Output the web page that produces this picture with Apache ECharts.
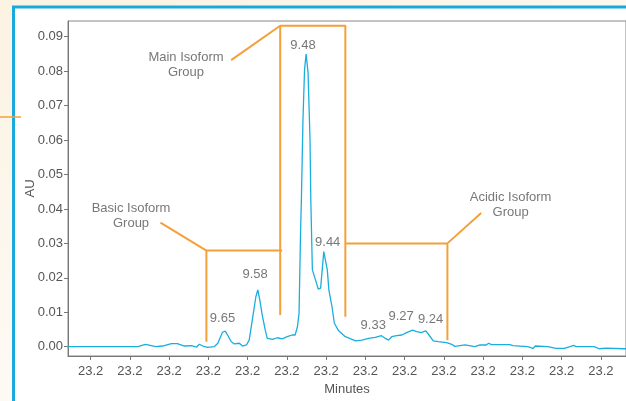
<!DOCTYPE html>
<html>
<head>
<meta charset="utf-8">
<script src="https://cdn.jsdelivr.net/npm/echarts@6/dist/echarts.min.js"></script>
<style>
html, body { margin: 0; padding: 0; background: #fdf8ee; }
#chart { width: 626px; height: 401px; }
</style>
</head>
<body>
<div id="chart"></div>
<script>
//--------------------Data--------------------
// trace: x in tick units (tick 0 = first "23.2"), y in AU
let trace_x = [-0.64, 1.20, 1.40, 1.66, 1.83, 2.06, 2.21, 2.39, 2.57, 2.70, 2.77, 2.86, 2.98, 3.15, 3.24,
    3.36, 3.43, 3.49, 3.58, 3.66, 3.79, 3.87, 3.97, 4.04, 4.12, 4.21, 4.26, 4.31, 4.38, 4.45, 4.50, 4.63,
    4.76, 4.88, 5.01, 5.13, 5.21, 5.27, 5.31, 5.35, 5.37, 5.41, 5.45, 5.49, 5.52, 5.54, 5.59, 5.61, 5.65,
    5.73, 5.80, 5.86, 5.90, 5.94, 5.99, 6.03, 6.07, 6.15, 6.21, 6.32, 6.49, 6.75, 6.91, 7.08, 7.25, 7.41,
    7.51, 7.59, 7.67, 7.80, 7.93, 8.05, 8.20, 8.31, 8.42, 8.54, 8.62, 8.73, 8.86, 9.07, 9.20, 9.28, 9.54,
    9.79, 9.92, 10.08, 10.14, 10.21, 10.68, 10.76, 11.14, 11.27, 11.33, 11.65, 11.86, 12.07, 12.31, 12.37,
    12.83, 12.96, 13.13, 13.58, 13.64];
let trace_y = [0, 0, 0.0007, 0, 0.0002, 0.0009, 0.0009, 0.0002, 0.0003, -0.0001, 0.0007, 0.0002, -0.0002, 0, 0.0010,
    0.0042, 0.0045, 0.0034, 0.0015, 0.0008, 0.0010, 0.0002, 0.0005, 0.0019, 0.0078, 0.0145, 0.0165, 0.0136,
    0.0087, 0.0048, 0.0024, 0.0021, 0.0026, 0.0023, 0.0029, 0.0034, 0.0034, 0.0058, 0.0097, 0.0339, 0.0426,
    0.0658, 0.0803, 0.0850, 0.0818, 0.0795, 0.0600, 0.0426, 0.0223, 0.0194, 0.0167, 0.0170, 0.0223, 0.0276,
    0.0273, 0.0223, 0.0165, 0.0116, 0.0068, 0.0046, 0.0029, 0.0017, 0.0019, 0.0024, 0.0027, 0.0032, 0.0024,
    0.0019, 0.0029, 0.0032, 0.0034, 0.0041, 0.0048, 0.0044, 0.0041, 0.0046, 0.0034, 0.0017, 0.0015, 0.0012,
    0.0007, 0.0001, 0.0005, 0, 0.0005, 0.0005, 0.0010, 0.0006, 0.0006, 0.0003, 0, -0.0005, 0.0002, 0,
    -0.0005, -0.0005, 0.0004, 0, 0, -0.0006, -0.0004, -0.0006, -0.0006];

let x_tick_values = [0, 1, 2, 3, 4, 5, 6, 7, 8, 9, 10, 11, 12, 13];
let x_tick_labels = ['23.2', '23.2', '23.2', '23.2', '23.2', '23.2', '23.2',
    '23.2', '23.2', '23.2', '23.2', '23.2', '23.2', '23.2'];
let y_tick_values = [0, 0.01, 0.02, 0.03, 0.04, 0.05, 0.06, 0.07, 0.08, 0.09];

// peak retention labels
let peak_labels = ['9.65', '9.58', '9.48', '9.44', '9.33', '9.27', '9.24'];
let peak_x = [3.36, 4.19, 5.41, 6.04, 7.20, 7.91, 8.66];
let peak_y = [0.0083, 0.0211, 0.0876, 0.0304, 0.0062, 0.0089, 0.0079];

// group captions
let group_labels = ['Basic Isoform\nGroup', 'Main Isoform\nGroup', 'Acidic Isoform\nGroup'];
let group_x = [1.03, 2.43, 10.70];
let group_y = [0.0380, 0.0817, 0.0411];

// bracket polylines (null = break)
let bracket_x = [1.78, 2.95, 4.88, null, 2.95, 2.95, null,
    3.58, 4.83, 6.49, 6.49, null, 4.83, 4.83, null,
    6.49, 9.09, 9.09, null, 9.09, 9.95];
let bracket_y = [0.0360, 0.0279, 0.0279, null, 0.0279, 0.00145, null,
    0.0832, 0.0932, 0.0932, 0.0087, null, 0.0932, 0.0092, null,
    0.0300, 0.0300, 0.0019, null, 0.0300, 0.0388];

//--------------------Style--------------------
let text_color = '#555555';
let axis_color = '#777777';
let trace_color = '#1aaedf';
let orange_color = '#f4a03a';
let frame_color = '#19a9dc';
let font_family = '"Liberation Sans", Arial, sans-serif';

let chart_dom = document.getElementById('chart');
let chart = echarts.init(chart_dom);

function zip(a, b) {
    return a.map(function (v, i) { return v === null ? [null, null] : [v, b[i]]; });
}

let option = {
    backgroundColor: 'transparent',
    animation: false,
    textStyle: { fontFamily: font_family },
    graphic: [
        {
            type: 'rect', z: -200, silent: true,
            shape: { x: 0, y: 0, width: 626, height: 401 },
            style: {
                fill: new echarts.graphic.LinearGradient(0, 0, 0.3, 1, [
                    { offset: 0, color: '#fbf3e2' },
                    { offset: 1, color: '#fefcf9' }
                ])
            }
        },
        {
            type: 'rect', z: -100, silent: true,
            shape: { x: 13.5, y: 7, width: 800, height: 600 },
            style: { fill: '#ffffff', stroke: frame_color, lineWidth: 3 }
        },
        {
            type: 'line', z: 100, silent: true,
            shape: { x1: 0, y1: 117, x2: 21, y2: 117 },
            style: { stroke: orange_color, lineWidth: 1.5 }
        }
    ],
    grid: {
        left: 68, top: 21, right: -2, bottom: 45,
        show: true, borderColor: '#888888', borderWidth: 1, backgroundColor: '#ffffff'
    },
    xAxis: {
        type: 'value',
        min: -0.576, max: 13.64,
        name: 'Minutes', nameLocation: 'middle', nameGap: 26,
        nameTextStyle: { color: text_color, fontSize: 13 },
        axisLine: { onZero: false, lineStyle: { color: axis_color } },
        axisTick: { show: true, length: 4, lineStyle: { color: axis_color }, customValues: x_tick_values },
        axisLabel: {
            color: text_color, fontSize: 13, margin: 9,
            customValues: x_tick_values,
            formatter: function (v) { return x_tick_labels[Math.round(v)]; }
        },
        splitLine: { show: false }
    },
    yAxis: {
        type: 'value',
        min: -0.0027, max: 0.09457,
        name: 'AU', nameLocation: 'middle', nameGap: 31, nameMoveOverlap: false,
        nameTextStyle: { color: text_color, fontSize: 13 },
        axisLine: { show: true, onZero: false, lineStyle: { color: axis_color } },
        axisTick: { show: true, length: 4, lineStyle: { color: axis_color }, customValues: y_tick_values },
        axisLabel: {
            color: text_color, fontSize: 13, margin: 5,
            customValues: y_tick_values,
            formatter: function (v) { return v.toFixed(2); }
        },
        splitLine: { show: false }
    },
    series: [
        {
            type: 'line', name: 'trace',
            data: zip(trace_x, trace_y),
            showSymbol: false, symbol: 'none',
            lineStyle: { color: trace_color, width: 1.3 },
            z: 3
        },
        {
            type: 'line', name: 'brackets',
            data: zip(bracket_x, bracket_y),
            connectNulls: false, showSymbol: false, symbol: 'none',
            lineStyle: { color: orange_color, width: 2 },
            z: 4
        },
        {
            type: 'scatter', name: 'peaks',
            data: peak_x.map(function (x, i) { return { value: [x, peak_y[i]], name: peak_labels[i] }; }),
            symbolSize: 1, itemStyle: { color: 'rgba(0,0,0,0)' },
            label: {
                show: true, position: 'inside', formatter: '{b}',
                color: text_color, fontSize: 13, fontFamily: font_family
            },
            z: 5
        },
        {
            type: 'scatter', name: 'groups',
            data: group_x.map(function (x, i) { return { value: [x, group_y[i]], name: group_labels[i] }; }),
            symbolSize: 1, itemStyle: { color: 'rgba(0,0,0,0)' },
            label: {
                show: true, position: 'inside', formatter: '{b}', align: 'center',
                color: text_color, fontSize: 13, lineHeight: 15, fontFamily: font_family
            },
            z: 5
        }
    ]
};
if (option && typeof option === 'object') {
    chart.setOption(option, true);
}
</script>
</body>
</html>
